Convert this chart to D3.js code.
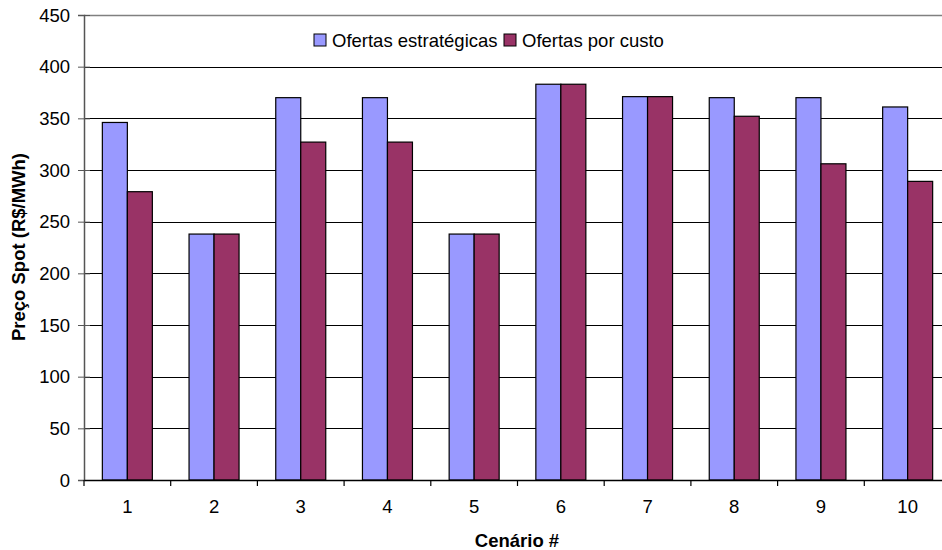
<!DOCTYPE html>
<html>
<head>
<meta charset="utf-8">
<script src="https://cdn.jsdelivr.net/npm/d3@7"></script>
<style>
  html, body { margin: 0; padding: 0; background: #fff; }
  svg { display: block; font-family: Arial, "Liberation Sans", sans-serif; }
</style>
</head>
<body>
<svg id="chart" width="942" height="550"></svg>
<script>
// Spot price per scenario, two bidding strategies
const scenarios = ["1", "2", "3", "4", "5", "6", "7", "8", "9", "10"];
const seriesNames = ["Ofertas estratégicas", "Ofertas por custo"];
const strategicBids = [346, 238, 370, 370, 238, 383, 371, 370, 370, 361];
const costBids = [279, 238, 327, 327, 238, 383, 371, 352, 306, 289];
const yTicks = [0, 50, 100, 150, 200, 250, 300, 350, 400, 450];
const colors = ["#9999FF", "#993366"];

const FS = 18.5;
const svg = d3.select("#chart");
const margin = { left: 84, top: 15 };
const plotW = 867, plotH = 465;

const x = d3.scaleBand().domain(scenarios).range([0, plotW]).paddingInner(0).paddingOuter(0);
const groupW = 50;
const xs = d3.scaleBand().domain(seriesNames).range([0, groupW]);
const y = d3.scaleLinear().domain([0, 450]).range([plotH, 0]);

const g = svg.append("g").attr("transform", `translate(${margin.left},${margin.top})`);

// horizontal gridlines
g.selectAll("line.grid").data(yTicks.filter(t => t > 0 && t < 450)).join("line")
  .attr("class", "grid")
  .attr("x1", 0).attr("x2", plotW)
  .attr("y1", d => Math.round(y(d)) + 0.5).attr("y2", d => Math.round(y(d)) + 0.5)
  .attr("stroke", "#000").attr("stroke-width", 1);

// plot frame top/right
g.append("line").attr("x1", 0).attr("x2", plotW).attr("y1", 0.5).attr("y2", 0.5)
  .attr("stroke", "#808080").attr("stroke-width", 1.5);
g.append("line").attr("x1", plotW).attr("x2", plotW).attr("y1", 0).attr("y2", plotH)
  .attr("stroke", "#808080").attr("stroke-width", 1.5);

// bars
const rows = scenarios.map((s, i) => ({ s, vals: [strategicBids[i], costBids[i]] }));
const grp = g.selectAll("g.cat").data(rows).join("g")
  .attr("class", "cat")
  .attr("transform", d => `translate(${x(d.s) + (x.bandwidth() - groupW) / 2},0)`);
grp.selectAll("rect").data(d => d.vals.map((v, k) => ({ v, k }))).join("rect")
  .attr("x", d => xs(seriesNames[d.k]))
  .attr("y", d => y(d.v))
  .attr("width", xs.bandwidth())
  .attr("height", d => y(0) - y(d.v))
  .attr("fill", d => colors[d.k])
  .attr("stroke", "#000").attr("stroke-width", 1.2);

// y axis
const yAxis = g.append("g").call(d3.axisLeft(y).tickValues(yTicks).tickSize(6).tickPadding(8));
yAxis.select(".domain").attr("stroke", "#555").attr("stroke-width", 1.5);
yAxis.selectAll(".tick line").attr("x2", -6).attr("x1", 6).attr("stroke", "#555");
yAxis.selectAll("text").attr("font-size", FS).attr("fill", "#000").attr("dy", "0.34em");

// x axis
const xAxis = g.append("g").attr("transform", `translate(0,${plotH})`)
  .call(d3.axisBottom(x).tickSize(0).tickPadding(20));
xAxis.select(".domain").attr("stroke", "#000").attr("stroke-width", 1.5);
xAxis.selectAll("text").attr("font-size", FS).attr("fill", "#000");
// category separator ticks
g.selectAll("line.xsep").data(scenarios).join("line")
  .attr("class", "xsep")
  .attr("x1", d => x(d)).attr("x2", d => x(d))
  .attr("y1", plotH).attr("y2", plotH + 6)
  .attr("stroke", "#000").attr("stroke-width", 1.2);

// axis titles
svg.append("text")
  .attr("transform", `translate(25,${margin.top + 232}) rotate(-90)`)
  .attr("text-anchor", "middle")
  .attr("font-size", FS).attr("font-weight", "bold")
  .text("Preço Spot (R$/MWh)");
svg.append("text")
  .attr("x", 517).attr("y", 547)
  .attr("text-anchor", "middle")
  .attr("font-size", FS).attr("font-weight", "bold")
  .text("Cenário #");

// legend
const legendX = [314, 504];
const leg = svg.selectAll("g.legend").data(seriesNames).join("g")
  .attr("class", "legend")
  .attr("transform", (d, i) => `translate(${legendX[i]},34)`);
leg.append("rect").attr("width", 12).attr("height", 12)
  .attr("fill", (d, i) => colors[i]).attr("stroke", "#000").attr("stroke-width", 1);
leg.append("text").attr("x", 18).attr("y", 12.5)
  .attr("font-size", FS).attr("fill", "#000")
  .text(d => d);
</script>
</body>
</html>
